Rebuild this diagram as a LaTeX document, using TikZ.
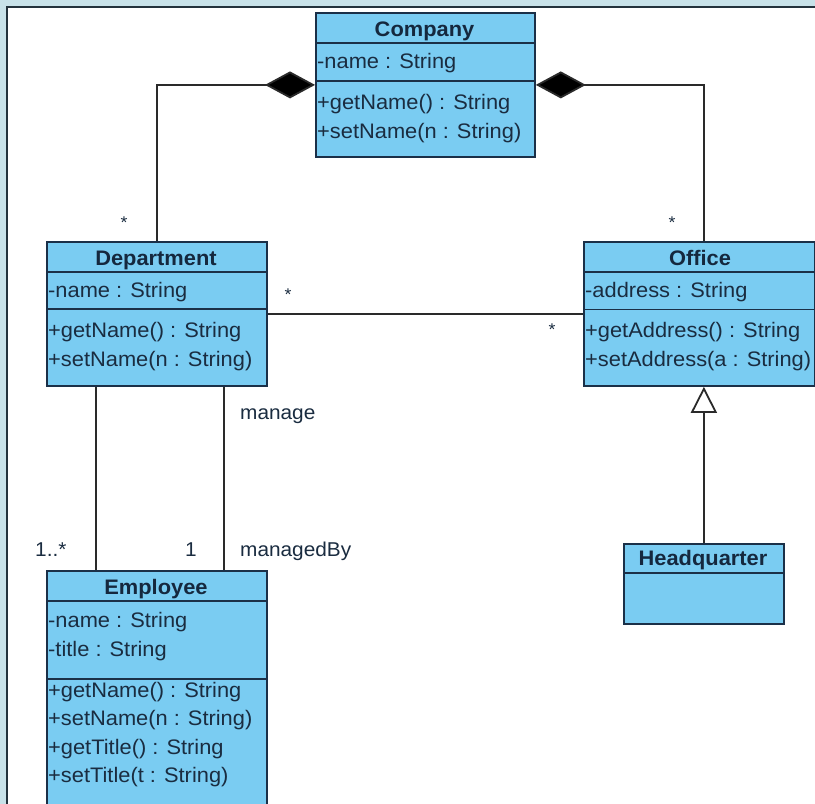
\documentclass[tikz,border=0pt]{standalone}
\usepackage{fontspec}
\setmainfont{Liberation Sans}[FakeStretch=1.04]
\usetikzlibrary{arrows.meta}
\definecolor{bandcol}{HTML}{C8E2E9}
\definecolor{framecol}{HTML}{23323C}
\definecolor{boxfill}{HTML}{7ACCF2}
\definecolor{boxline}{HTML}{1B3048}
\definecolor{titlecol}{HTML}{15283E}
\definecolor{textcol}{HTML}{1A2C40}
\definecolor{linecol}{HTML}{2A2A2A}
\begin{document}
\begin{tikzpicture}[x=1pt,y=-1pt,
  classbox/.style={draw=boxline, fill=boxfill, line width=1.8pt, inner sep=0pt, anchor=north west},
  sepline/.style={draw=boxline, line width=1.8pt},
  ttl/.style={font=\fontsize{21}{21}\selectfont\bfseries, text=titlecol, inner sep=0pt, anchor=base},
  mem/.style={font=\fontsize{21}{21}\selectfont, text=textcol, inner sep=0pt, anchor=base west},
  lbl/.style={font=\fontsize{20}{20}\selectfont, text=textcol, inner sep=0pt, anchor=base west},
  mult/.style={font=\fontsize{17}{17}\selectfont, text=textcol, inner sep=0pt, anchor=base},
  link/.style={draw=linecol, line width=1.8pt},
  comp/.style={link, -{Diamond[length=50pt,width=27pt,fill=black]}},
  gen/.style={link, -{Triangle[open,length=26pt,width=26pt,fill=white]}},
]
\useasboundingbox (0,0) rectangle (815,804);
\clip (0,0) rectangle (815,804);

% window frame
\fill[bandcol] (0,0) rectangle (815,804);
\draw[framecol, fill=white, line width=1.6pt] (7,7) rectangle (830,830);

% Company
\node[classbox, minimum width=219pt, minimum height=144pt] (company) at (315,12) {};
\draw[sepline] (315,42.7) -- (534,42.7);
\draw[sepline] (315,80.7) -- (534,80.7);
\node[ttl] (companyT) at (424.5,36) {Company};
\node[mem] (companyA1) at (317,68) {-name : String};
\node[mem] (companyM1) at (317,109) {+getName() : String};
\node[mem] (companyM2) at (317,138) {+setName(n : String)};

% Department
\node[classbox, minimum width=220pt, minimum height=144pt] (dept) at (46,241) {};
\draw[sepline] (46,272) -- (266,272);
\draw[sepline] (46,309) -- (266,309);
\node[ttl] (deptT) at (156,265) {Department};
\node[mem] (deptA1) at (48,297) {-name : String};
\node[mem] (deptM1) at (48,337) {+getName() : String};
\node[mem] (deptM2) at (48,366) {+setName(n : String)};

% Office
\node[classbox, minimum width=231pt, minimum height=144pt] (office) at (583,241) {};
\draw[sepline] (583,272) -- (814,272);
\draw[sepline] (583,309.5) -- (814,309.5);
\node[ttl] (officeT) at (700,265) {Office};
\node[mem] (officeA1) at (585,297) {-address : String};
\node[mem] (officeM1) at (585,337) {+getAddress() : String};
\node[mem] (officeM2) at (585,366) {+setAddress(a : String)};

% Employee
\node[classbox, minimum width=220pt, minimum height=250pt] (emp) at (46,570) {};
\draw[sepline] (46,601) -- (266,601);
\draw[sepline] (46,679) -- (266,679);
\node[ttl] (empT) at (156,594) {Employee};
\node[mem] (empA1) at (48,627) {-name : String};
\node[mem] (empA2) at (48,656) {-title : String};
\node[mem] (empM1) at (48,697) {+getName() : String};
\node[mem] (empM2) at (48,725.5) {+setName(n : String)};
\node[mem] (empM3) at (48,754) {+getTitle() : String};
\node[mem] (empM4) at (48,782.5) {+setTitle(t : String)};

% Headquarter
\node[classbox, minimum width=160pt, minimum height=80pt] (hq) at (623,543) {};
\draw[sepline] (623,573) -- (783,573);
\node[ttl] (hqT) at (703,565) {Headquarter};

% compositions
\draw[comp] (dept.north) |- (company.west);
\draw[comp] ([xshift=4.5pt]office.north) |- (company.east);
% association between Department and Office
\draw[link] (dept.east) -- (office.west);
% associations between Department and Employee
\draw[link] ([xshift=-61pt]dept.south) -- ([xshift=-61pt]emp.north);
\draw[link] ([xshift=67pt]dept.south) -- ([xshift=67pt]emp.north);
% generalization
\draw[gen] (hq.north) -- (hq.north |- office.south);

% multiplicities and role names
\node[mult] (m1) at (124,228) {*};
\node[mult] (m2) at (672,228) {*};
\node[mult] (m3) at (288,300) {*};
\node[mult] (m4) at (552,335) {*};
\node[lbl] (roleA) at (240,419) {manage};
\node[lbl] (m5) at (35,556) {1..*};
\node[lbl] (m6) at (185,556) {1};
\node[lbl] (roleB) at (240,556) {managedBy};
\end{tikzpicture}
\end{document}
